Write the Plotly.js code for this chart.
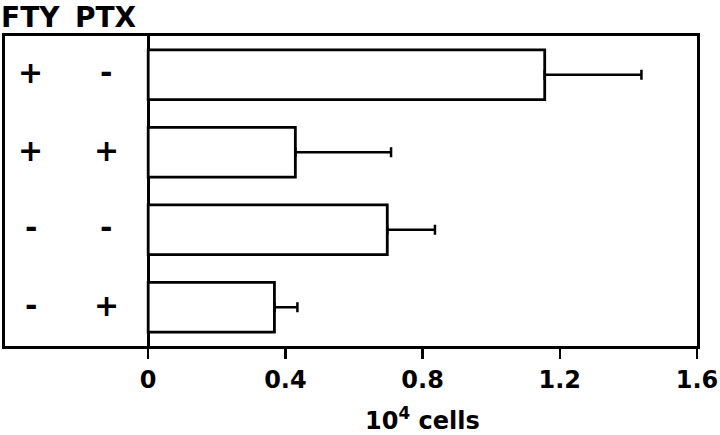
<!DOCTYPE html>
<html>
<head>
<meta charset="utf-8">
<script src="https://cdn.plot.ly/plotly-3.0.1.min.js"></script>
<style>html,body{margin:0;padding:0;background:#fff;}#chart{width:720px;height:435px;}</style>
</head>
<body>
<div id="chart"></div>
<script>
// Data
var rows = ['FTY+ PTX-', 'FTY+ PTX+', 'FTY- PTX-', 'FTY- PTX+'];
var fty = ['+', '+', '-', '-'];
var ptx = ['-', '+', '-', '+'];
var cells = [1.156, 0.429, 0.697, 0.368];
var sem = [0.282, 0.279, 0.139, 0.067];
var zeros = [0, 0, 0, 0];
var tickVals = [0, 0.4, 0.8, 1.2, 1.6];
var tickText = ['0', '0.4', '0.8', '1.2', '1.6'];

var FONT = 'DejaVu Sans, Arial, sans-serif';
var colFTY = -0.3425, colPTX = -0.1226;

var trace = {
  type: 'bar',
  orientation: 'h',
  y: rows,
  x: cells,
  width: 0.64,
  marker: {color: '#ffffff', line: {color: '#000000', width: 2.8}},
  error_x: {type: 'data', symmetric: false, array: sem, arrayminus: zeros,
            color: '#000000', thickness: 2.5, width: 5},
  hoverinfo: 'none'
};

var ann = [];
for (var i = 0; i < rows.length; i++) {
  ann.push({x: colFTY, y: rows[i], xref: 'x', yref: 'y', text: fty[i], showarrow: false,
            xanchor: 'center', yanchor: 'middle', yshift: 2,
            font: {family: FONT, size: 30, color: '#000', weight: 'bold'}});
  ann.push({x: colPTX, y: rows[i], xref: 'x', yref: 'y', text: ptx[i], showarrow: false,
            xanchor: 'center', yanchor: 'middle', yshift: 2,
            font: {family: FONT, size: 30, color: '#000', weight: 'bold'}});
}
ann.push({x: colFTY, y: 1.0, xref: 'x', yref: 'paper', yshift: 37, yanchor: 'top', text: 'FTY', showarrow: false,
          font: {family: FONT, size: 28, color: '#000', weight: 'bold'}});
ann.push({x: colPTX, y: 1.0, xref: 'x', yref: 'paper', yshift: 37, yanchor: 'top', text: 'PTX', showarrow: false,
          font: {family: FONT, size: 28, color: '#000', weight: 'bold'}});
ann.push({x: 0.8, y: -0.235, xref: 'x', yref: 'paper', yanchor: 'middle', text: '10<sup>4</sup> cells', showarrow: false,
          font: {family: FONT, size: 24, color: '#000', weight: 'bold'}});

var layout = {
  width: 720, height: 435,
  margin: {l: 5, r: 23, t: 36, b: 89, pad: 0},
  paper_bgcolor: '#fff', plot_bgcolor: '#fff',
  showlegend: false,
  xaxis: {
    range: [-0.4175, 1.6], fixedrange: true,
    tickmode: 'array', tickvals: tickVals, ticktext: tickText,
    ticks: 'outside', ticklen: 10, tickwidth: 2.5, tickcolor: '#000',
    showgrid: false,
    zeroline: true, zerolinecolor: '#000', zerolinewidth: 2.8,
    showline: true, mirror: true, linecolor: '#000', linewidth: 2.8,
    tickfont: {family: FONT, size: 24, color: '#000', weight: 'bold'}
  },
  yaxis: {
    type: 'category', range: [3.5, -0.5], fixedrange: true,
    showticklabels: false, ticks: '', showgrid: false, zeroline: false,
    showline: true, mirror: true, linecolor: '#000', linewidth: 2.8
  },
  annotations: ann
};

Plotly.newPlot('chart', [trace], layout, {displayModeBar: false, staticPlot: true});
</script>
</body>
</html>
